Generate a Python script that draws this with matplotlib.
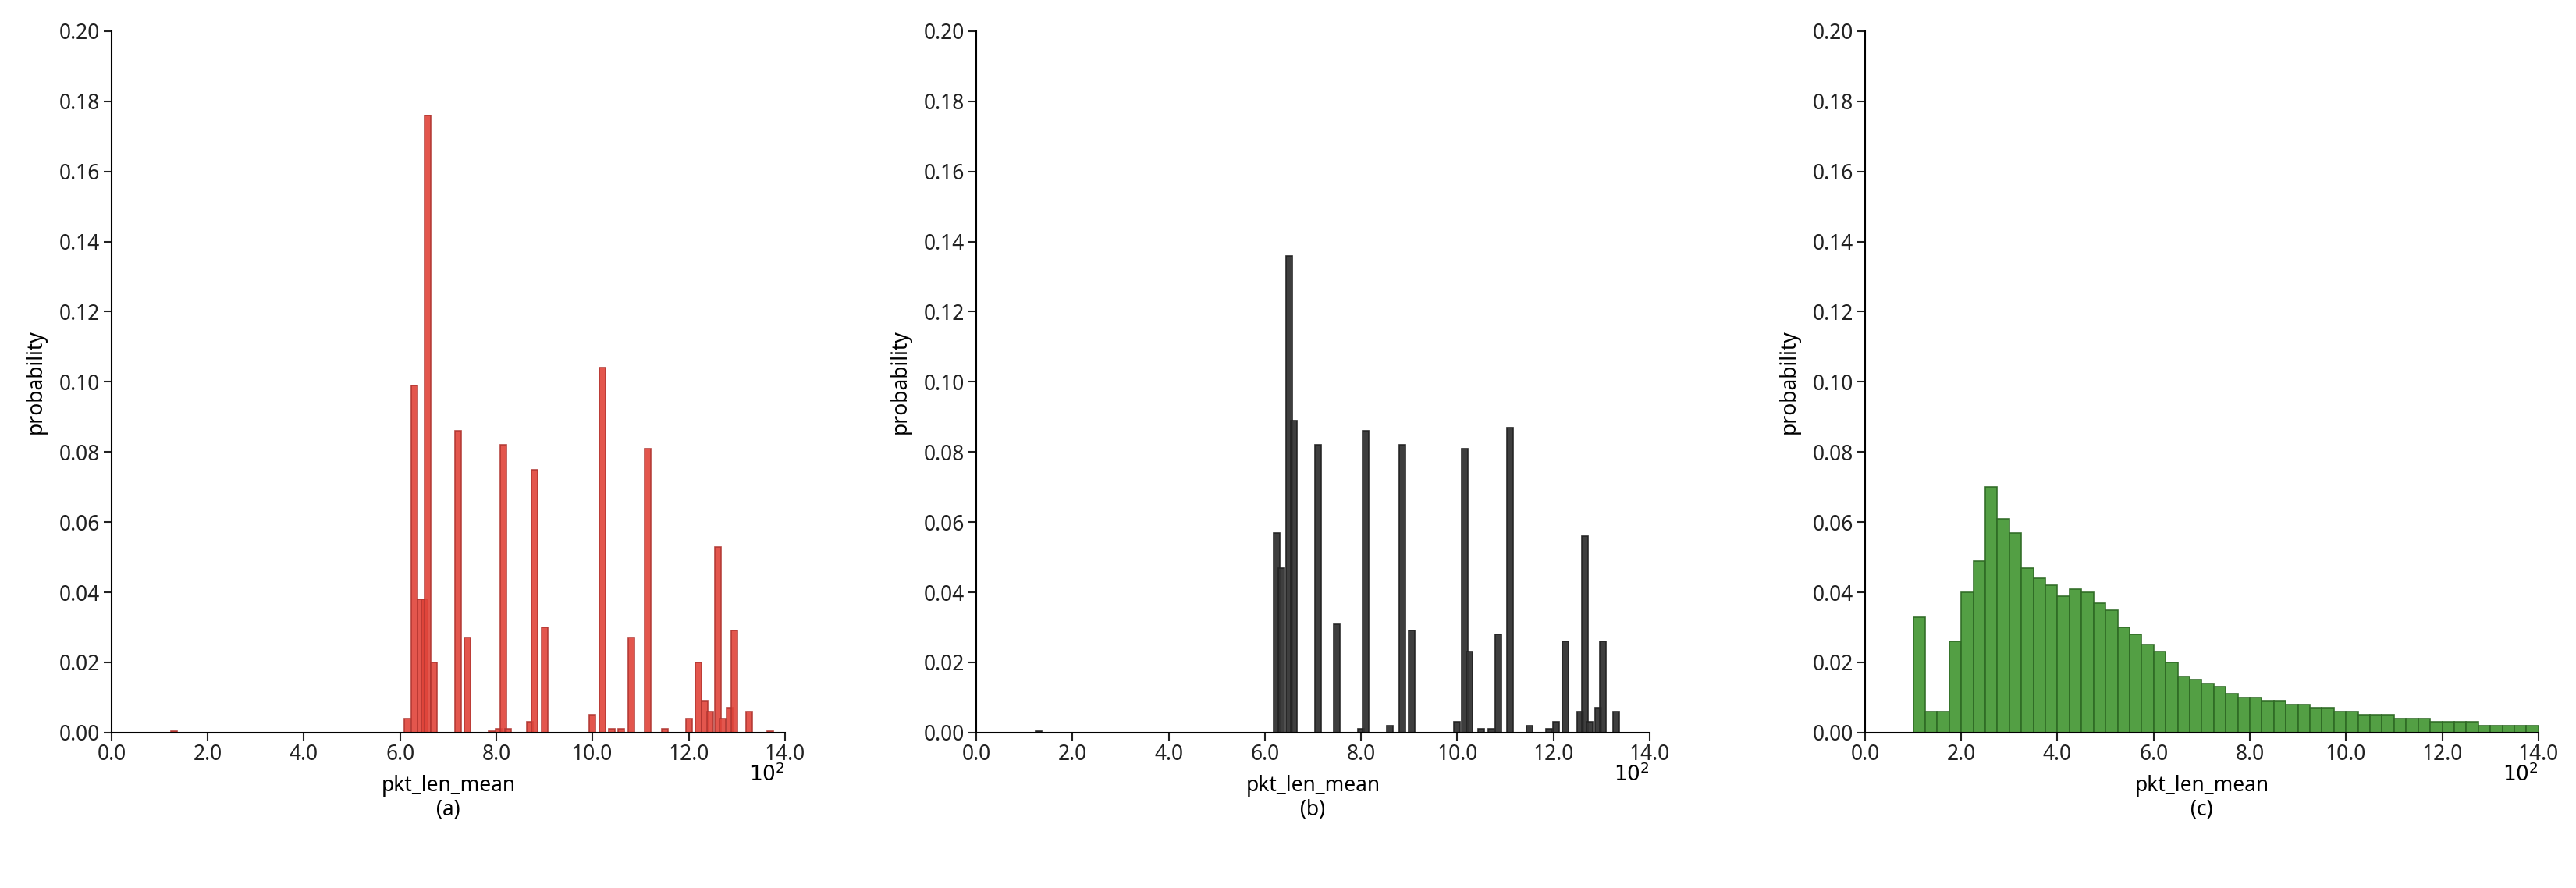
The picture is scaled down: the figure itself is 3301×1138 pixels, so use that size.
import numpy as np
import matplotlib
matplotlib.use('Agg')
import matplotlib.pyplot as plt

plt.rcParams['font.family'] = ['Noto Sans', 'DejaVu Sans']

# panel (a): bin centers (x 10^2) and probabilities
a_x = [1.3, 6.15, 6.3, 6.42, 6.5, 6.57, 6.7, 7.2, 7.4, 7.9, 8.05, 8.15, 8.25, 8.7, 8.8, 9.0,
       10.0, 10.2, 10.4, 10.6, 10.8, 11.15, 11.5, 12.0, 12.2, 12.33, 12.45, 12.6, 12.7, 12.85,
       12.95, 13.25, 13.7]
a_y = [0.0005, 0.004, 0.099, 0.038, 0.038, 0.176, 0.020, 0.086, 0.027, 0.0005, 0.001, 0.082,
       0.001, 0.003, 0.075, 0.030, 0.005, 0.104, 0.001, 0.001, 0.027, 0.081, 0.001, 0.004,
       0.020, 0.009, 0.006, 0.053, 0.004, 0.007, 0.029, 0.006, 0.0005]

# panel (b)
b_x = [1.3, 6.25, 6.35, 6.5, 6.6, 7.1, 7.5, 8.0, 8.1, 8.6, 8.85, 9.05, 10.0, 10.15, 10.25,
       10.5, 10.7, 10.85, 11.1, 11.5, 11.9, 12.05, 12.25, 12.55, 12.65, 12.75, 12.93, 13.03, 13.3]
b_y = [0.0005, 0.057, 0.047, 0.136, 0.089, 0.082, 0.031, 0.001, 0.086, 0.002, 0.082, 0.029,
       0.003, 0.081, 0.023, 0.001, 0.001, 0.028, 0.087, 0.002, 0.001, 0.003, 0.026, 0.006,
       0.056, 0.003, 0.007, 0.026, 0.006]

# panel (c): bins of width 0.25 starting at 1.0
c_edges_start = 1.0
c_width = 0.25
c_y = [0.033, 0.006, 0.006, 0.026, 0.040, 0.049, 0.070, 0.061, 0.057, 0.047, 0.044, 0.042,
       0.039, 0.041, 0.040, 0.037, 0.035, 0.030, 0.028, 0.025, 0.023, 0.020, 0.016, 0.015,
       0.014, 0.013, 0.011, 0.010, 0.010, 0.009, 0.009, 0.008, 0.008, 0.007, 0.007, 0.006,
       0.006, 0.005, 0.005, 0.005, 0.004, 0.004, 0.004, 0.003, 0.003, 0.003, 0.003, 0.002,
       0.002, 0.002, 0.002, 0.002]

fig = plt.figure(figsize=(33.01, 11.38), dpi=100)
lefts = [0.0433, 0.379, 0.724]
axes = [fig.add_axes([l, 0.175, 0.2614, 0.79]) for l in lefts]

axes[0].bar(a_x, a_y, width=0.13, color='#e0443a', edgecolor='#b03530', linewidth=1.2, alpha=0.9)
axes[1].bar(b_x, b_y, width=0.13, color='#333333', edgecolor='#222222', linewidth=1.2, alpha=0.95)
c_left = c_edges_start + c_width * np.arange(len(c_y))
axes[2].bar(c_left, c_y, width=c_width, align='edge', color='#4a9a3a', edgecolor='#2f6a25',
            linewidth=1.2, alpha=0.95)

for ax, lab in zip(axes, ['(a)', '(b)', '(c)']):
    ax.set_xlim(0, 14)
    ax.set_ylim(0, 0.2)
    ax.set_xticks(np.arange(0, 14.1, 2))
    ax.set_xticklabels([f'{v:.1f}' for v in np.arange(0, 14.1, 2)])
    ax.set_yticks(np.arange(0, 0.201, 0.02))
    ax.set_yticklabels([f'{v:.2f}' for v in np.arange(0, 0.201, 0.02)])
    ax.tick_params(labelsize=19, length=7, width=1.5, colors='#222222')
    for s in ['top', 'right']:
        ax.spines[s].set_visible(False)
    for s in ['left', 'bottom']:
        ax.spines[s].set_linewidth(1.5)
    ax.set_ylabel('probability', fontsize=19, labelpad=12)
    ax.set_xlabel('pkt_len_mean', fontsize=19, labelpad=8)
    ax.text(1.0, -0.045, r'$10^2$', transform=ax.transAxes, ha='right', va='top', fontsize=19)
    ax.text(0.5, -0.11, lab, transform=ax.transAxes, ha='center', va='center', fontsize=19)

fig.savefig('out.png', dpi=100)
